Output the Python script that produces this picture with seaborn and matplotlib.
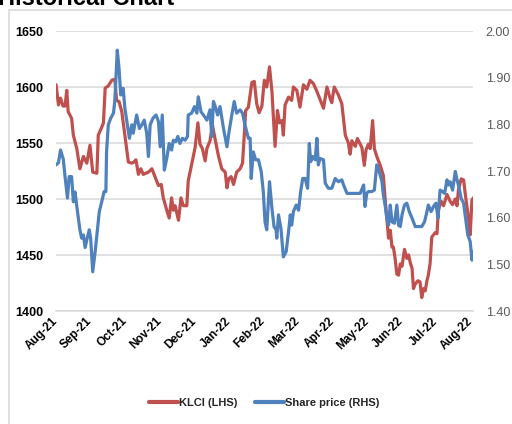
import numpy as np
import pandas as pd
import matplotlib
matplotlib.use("Agg")
import matplotlib.pyplot as plt
import seaborn as sns
from matplotlib.patches import Rectangle
from matplotlib.lines import Line2D

# ---------------- data ----------------
month_labels = ["Aug-21", "Sep-21", "Oct-21", "Nov-21", "Dec-21", "Jan-22", "Feb-22",
                "Mar-22", "Apr-22", "May-22", "Jun-22", "Jul-22", "Aug-22"]

# position in months since Aug-21
klci_month = [0.01, 0.08, 0.14, 0.21, 0.27, 0.32, 0.36, 0.46, 0.51, 0.61, 0.70, 0.80, 0.90, 0.99,
              1.07, 1.19, 1.23, 1.33, 1.38, 1.43, 1.52, 1.62, 1.71, 1.76, 1.83, 1.91, 2.00, 2.10,
              2.20, 2.26, 2.32, 2.39, 2.46, 2.53, 2.68, 2.78, 2.87, 2.97, 3.05, 3.11, 3.21, 3.28,
              3.35, 3.40, 3.45, 3.55, 3.62, 3.69, 3.79, 3.83, 3.93, 4.03, 4.11, 4.17, 4.24, 4.32,
              4.37, 4.46, 4.53, 4.61, 4.70, 4.80, 4.90, 4.95, 5.00, 5.07, 5.14, 5.23, 5.33, 5.40,
              5.45, 5.49, 5.57, 5.67, 5.74, 5.81, 5.88, 5.96, 6.03, 6.10, 6.18, 6.25, 6.34, 6.41,
              6.47, 6.54, 6.58, 6.63, 6.73, 6.82, 6.87, 6.97, 7.06, 7.16, 7.26, 7.35, 7.45, 7.55,
              7.64, 7.74, 7.84, 7.93, 7.98, 8.05, 8.17, 8.27, 8.37, 8.46, 8.51, 8.56, 8.66, 8.72,
              8.80, 8.85, 8.92, 8.97, 9.04, 9.09, 9.16, 9.21, 9.28, 9.38, 9.47, 9.52, 9.57, 9.62,
              9.67, 9.72, 9.76, 9.81, 9.86, 9.91, 9.96, 10.01, 10.08, 10.15, 10.20, 10.25, 10.30,
              10.34, 10.39, 10.47, 10.53, 10.58, 10.63, 10.68, 10.73, 10.77, 10.82, 10.87, 10.97,
              11.02, 11.06, 11.14, 11.21, 11.26, 11.31, 11.40, 11.47, 11.55, 11.60, 11.64, 11.72,
              11.79, 11.84, 11.93, 11.98, 12.03, 12.07]
klci_value = [1602, 1584, 1590, 1583, 1583, 1597, 1578, 1572, 1557, 1545, 1527, 1538, 1532, 1548,
              1524, 1523, 1557, 1564, 1568, 1599, 1601, 1606, 1607, 1588, 1587, 1578, 1557, 1533,
              1532, 1533, 1535, 1522, 1527, 1522, 1524, 1527, 1520, 1512, 1513, 1501, 1490, 1483,
              1501, 1490, 1494, 1481, 1501, 1494, 1494, 1516, 1531, 1546, 1568, 1549, 1545, 1534,
              1545, 1552, 1566, 1553, 1539, 1527, 1524, 1510, 1518, 1520, 1513, 1524, 1527, 1532,
              1557, 1579, 1582, 1604, 1605, 1585, 1577, 1583, 1606, 1600, 1618, 1596, 1547, 1579,
              1568, 1570, 1557, 1584, 1591, 1588, 1600, 1597, 1582, 1602, 1598, 1606, 1603, 1596,
              1589, 1581, 1600, 1590, 1586, 1600, 1593, 1585, 1557, 1550, 1540, 1552, 1547, 1554,
              1549, 1546, 1530, 1544, 1549, 1545, 1570, 1545, 1538, 1530, 1521, 1501, 1483, 1465,
              1472, 1457, 1457, 1447, 1433, 1432, 1442, 1440, 1455, 1447, 1450, 1443, 1438,
              1420, 1424, 1427, 1426, 1412, 1420, 1418, 1427, 1432, 1442, 1466, 1470,
              1469, 1490, 1498, 1494, 1499, 1504, 1498, 1495, 1500, 1494, 1508, 1518,
              1517, 1504, 1483, 1468, 1499, 1501]

share_month = [0.01, 0.08, 0.14, 0.22, 0.27, 0.34, 0.39, 0.46, 0.51, 0.56, 0.61, 0.70, 0.75, 0.80,
               0.85, 0.91, 0.97, 1.01, 1.07, 1.14, 1.19, 1.26, 1.33, 1.40, 1.45, 1.47, 1.52, 1.59,
               1.67, 1.71, 1.78, 1.83, 1.88, 1.95, 2.00, 2.07, 2.13, 2.20, 2.24, 2.34, 2.42, 2.49,
               2.56, 2.63, 2.68, 2.73, 2.81, 2.90, 2.97, 3.02, 3.08, 3.14, 3.21, 3.28, 3.35, 3.40,
               3.47, 3.53, 3.59, 3.66, 3.74, 3.81, 3.83, 3.93, 4.01, 4.08, 4.12, 4.20, 4.27, 4.37,
               4.46, 4.51, 4.56, 4.63, 4.68, 4.75, 4.85, 4.95, 5.01, 5.09, 5.16, 5.23, 5.33, 5.40,
               5.47, 5.57, 5.62, 5.65, 5.71, 5.78, 5.86, 5.94, 6.00, 6.05, 6.10, 6.18, 6.25, 6.31,
               6.37, 6.39, 6.44, 6.51, 6.58, 6.66, 6.73, 6.78, 6.82, 6.87, 6.95, 7.02, 7.08, 7.14,
               7.21, 7.28, 7.33, 7.37, 7.43, 7.50, 7.55, 7.59, 7.64, 7.74, 7.79, 7.88, 7.98, 8.08,
               8.17, 8.27, 8.32, 8.42, 8.61, 8.80, 8.90, 8.94, 8.99, 9.04, 9.14, 9.21, 9.28, 9.35,
               9.43, 9.47, 9.52, 9.57, 9.62, 9.67, 9.72, 9.79, 9.86, 9.91, 9.96, 10.01, 10.08,
               10.15, 10.22, 10.30, 10.39, 10.49, 10.58, 10.66, 10.73, 10.77, 10.85, 10.92, 10.99,
               11.05, 11.11, 11.18, 11.24, 11.31, 11.35, 11.40, 11.47, 11.55, 11.60, 11.64, 11.72,
               11.79, 11.86, 11.91, 11.98, 12.03, 12.07]
share_value = [1.713, 1.718, 1.745, 1.725, 1.688, 1.642, 1.688, 1.688, 1.634, 1.655, 1.624, 1.574,
               1.556, 1.563, 1.536, 1.556, 1.574, 1.556, 1.484, 1.527, 1.563, 1.613, 1.634, 1.656,
               1.656, 1.741, 1.799, 1.813, 1.824, 1.852, 1.959, 1.920, 1.863, 1.877, 1.834, 1.799,
               1.770, 1.799, 1.781, 1.820, 1.791, 1.799, 1.809, 1.781, 1.731, 1.799, 1.813, 1.820,
               1.806, 1.752, 1.820, 1.702, 1.727, 1.759, 1.745, 1.766, 1.763, 1.774, 1.759, 1.770,
               1.766, 1.774, 1.820, 1.824, 1.838, 1.824, 1.859, 1.827, 1.820, 1.809, 1.831, 1.774,
               1.849, 1.834, 1.820, 1.838, 1.791, 1.752, 1.784, 1.820, 1.849, 1.824, 1.831, 1.824,
               1.799, 1.770, 1.770, 1.684, 1.741, 1.724, 1.724, 1.699, 1.656, 1.591, 1.574, 1.677,
               1.620, 1.581, 1.574, 1.556, 1.606, 1.577, 1.516, 1.527, 1.570, 1.606, 1.584, 1.613,
               1.627, 1.616, 1.656, 1.684, 1.684, 1.663, 1.759, 1.720, 1.731, 1.724, 1.770, 1.713,
               1.727, 1.724, 1.674, 1.663, 1.663, 1.684, 1.677, 1.681, 1.670, 1.652, 1.652, 1.652,
               1.670, 1.624, 1.652, 1.656, 1.656, 1.659, 1.713, 1.699, 1.677, 1.649, 1.627, 1.599,
               1.584, 1.627, 1.591, 1.588, 1.627, 1.584, 1.581, 1.606, 1.627, 1.631, 1.613, 1.599,
               1.581, 1.581, 1.581, 1.591, 1.613, 1.627, 1.613, 1.624, 1.631, 1.599, 1.659, 1.656,
               1.652, 1.681, 1.670, 1.677, 1.659, 1.699, 1.681, 1.670, 1.641, 1.631, 1.591, 1.563,
               1.549, 1.509, 1.527]

left_ticks = [1400, 1450, 1500, 1550, 1600, 1650]
right_ticks = [1.40, 1.50, 1.60, 1.70, 1.80, 1.90, 2.00]

title_text = "Historical Chart"
series_names = ["KLCI (LHS)", "Share price (RHS)"]

# ---------------- style ----------------
RED = "#C0504D"
BLUE = "#4F81BD"
GRID = "#D9D9D9"

sns.set_style("white")
plt.rcParams['font.family'] = ['Liberation Sans Narrow', 'Liberation Sans', 'DejaVu Sans']

fig = plt.figure(figsize=(5.12, 4.24), dpi=100)
ax = fig.add_axes([55.7 / 512, 1 - 311 / 424, (473.3 - 55.7) / 512, 280 / 424])
ax2 = ax.twinx()

kl = pd.DataFrame({"month": klci_month, "value": klci_value})
sp = pd.DataFrame({"month": share_month, "value": share_value})

sns.lineplot(data=kl, x="month", y="value", ax=ax, color=RED, linewidth=2.3,
             estimator=None, sort=False)
sns.lineplot(data=sp, x="month", y="value", ax=ax2, color=BLUE, linewidth=2.3,
             estimator=None, sort=False)

ax.set_xlim(0, 12.07)
ax.set_ylim(left_ticks[0], left_ticks[-1])
ax2.set_ylim(right_ticks[0], right_ticks[-1])

ax.set_yticks(left_ticks)
ax.set_yticklabels([str(t) for t in left_ticks], fontsize=9, fontweight='bold', color='black')
ax2.set_yticks(right_ticks)
ax2.set_yticklabels([f"{t:.2f}" for t in right_ticks], fontsize=9, color='#595959')

ax.set_xticks(range(len(month_labels)))
ax.set_xticklabels(month_labels, rotation=45, ha='right', va='center', rotation_mode='anchor',
                   fontsize=8.5, fontweight='bold', color='black')

ax.grid(axis='y', color=GRID, linewidth=1.1)
ax.grid(axis='x', visible=False)
ax2.grid(False)
ax.set_axisbelow(True)

for a in (ax, ax2):
    for s in ('top', 'right', 'left', 'bottom'):
        a.spines[s].set_visible(False)
    a.set_xlabel("")
    a.set_ylabel("")
ax.spines['bottom'].set_visible(True)
ax.spines['bottom'].set_color(GRID)
ax.spines['bottom'].set_linewidth(1.1)

ax.tick_params(axis='y', length=0, pad=9)
ax2.tick_params(axis='y', length=0, pad=9)
ax.tick_params(axis='x', length=4, width=1.1, color=GRID, pad=2)

# outer chart frame
fig.patches.append(Rectangle((9 / 512, -0.1), 1.2, 1 - 10 / 424 + 0.1, transform=fig.transFigure,
                             fill=False, edgecolor=GRID, linewidth=1.2))

fig.text(-0.004, 1 - 5 / 424, title_text, fontsize=17, fontweight='bold', color='black',
         va='baseline', ha='left')

handles = [Line2D([], [], color=RED, linewidth=3), Line2D([], [], color=BLUE, linewidth=3)]
leg = fig.legend(handles, series_names, loc='center', bbox_to_anchor=(264 / 512, 1 - 403 / 424),
                 ncol=2, frameon=False, handlelength=2.6, handletextpad=0.1, columnspacing=1.6,
                 prop={'weight': 'bold', 'size': 8})

fig.savefig("out.png", dpi=100)
